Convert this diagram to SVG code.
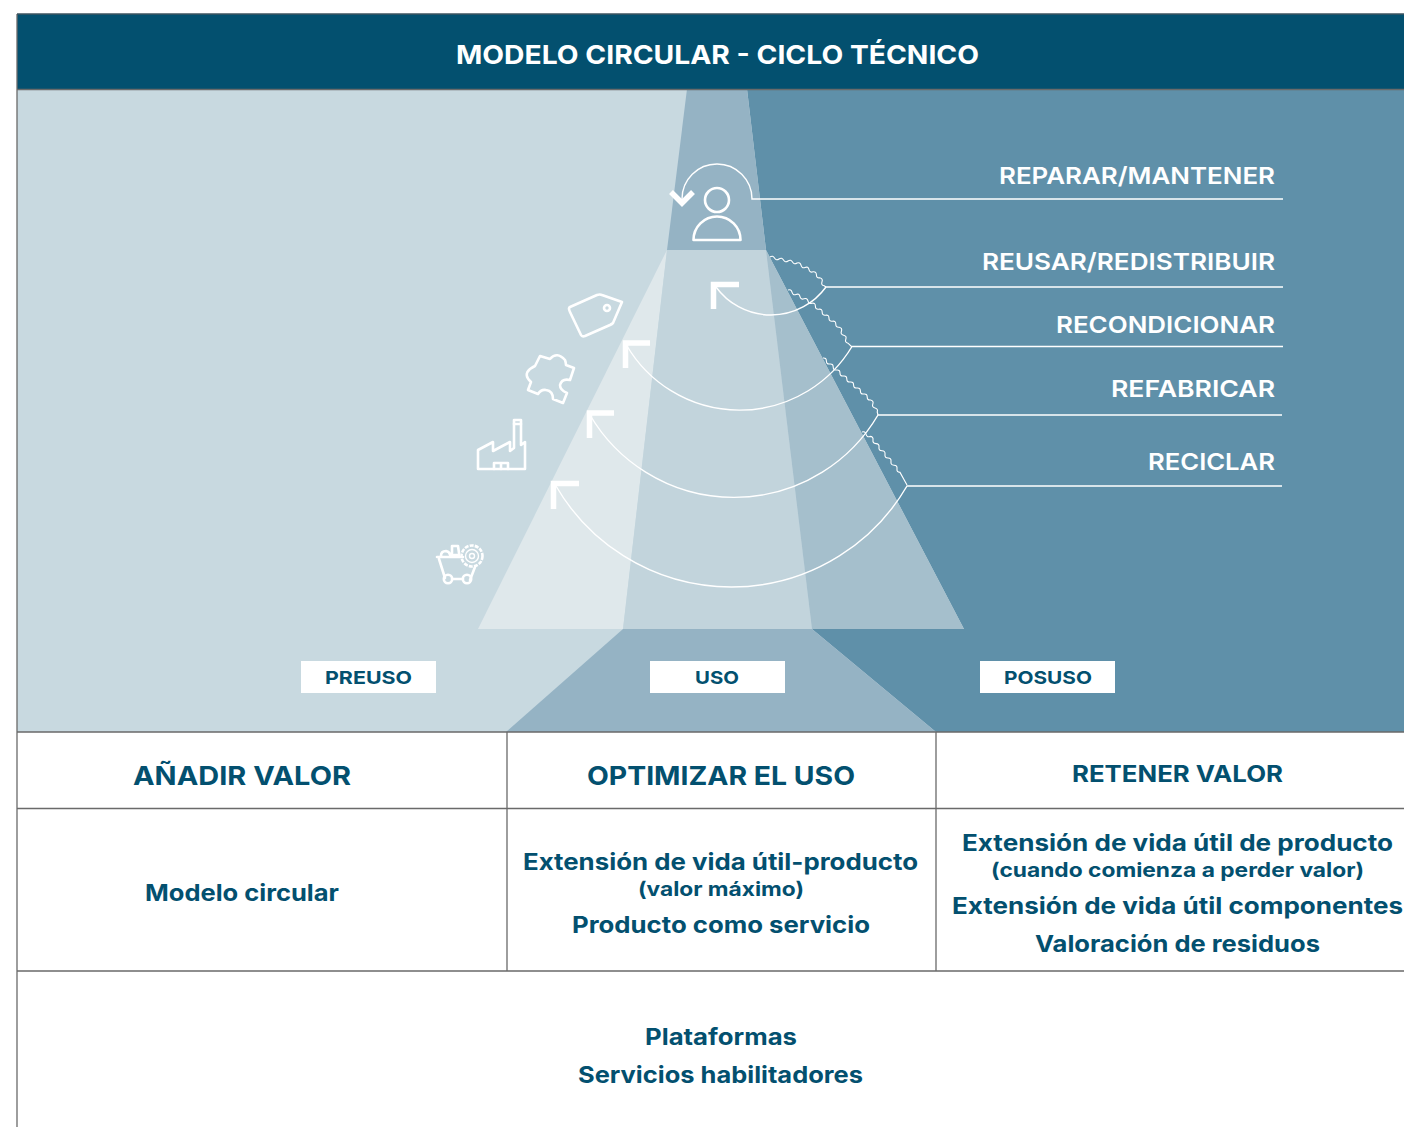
<svg xmlns="http://www.w3.org/2000/svg" width="1404" height="1127" viewBox="0 0 1404 1127">
<style>
text{font-family:"Inter","Liberation Sans",sans-serif;font-weight:700;fill:#03506f;text-anchor:middle}
.w{fill:#fff}
.r{fill:#fff;text-anchor:end;font-size:23.500px;font-weight:600}
.m{font-size:23px}
.s{font-size:20px}
.tag{font-size:18px}
.c{fill:none;stroke:#fff;stroke-width:1.4}
.v{fill:none;stroke:#fff;stroke-width:1.1}
.h{fill:none;stroke:#fff;stroke-width:5.5}
.i{fill:none;stroke:#fff;stroke-width:2.6;stroke-linejoin:round;stroke-linecap:round}
.b{stroke:#6a6a6a;stroke-width:1.3;fill:none}
</style>
<rect width="1404" height="1127" fill="#fff"/>
<g id="background">
<rect x="17" y="89" width="1387" height="643" fill="#c8d9e0"/>
<polygon points="747,89 1404,89 1404,732 936,732 812,629 964,629 766,250" fill="#5f90a9"/>
<polygon points="687,89 747,89 766,250 667,250" fill="#95b3c4"/>
<polygon points="667,250 623,629 478,629" fill="#dfe8eb"/>
<polygon points="667,250 766,250 812,629 623,629" fill="#c2d4dc"/>
<polygon points="766,250 964,629 812,629" fill="#a5bfcc"/>
<polygon points="623,629 812,629 936,732 506,732" fill="#95b3c4"/>
</g>
<g id="header">
<rect x="17" y="14" width="1387" height="75" fill="#03506f"/>
<text x="717.500" y="64" class="w" font-size="26" textLength="523" lengthAdjust="spacingAndGlyphs">MODELO CIRCULAR - CICLO TÉCNICO</text>
</g>
<g id="connectors">
<path class="c" d="M1283,199H752A35,35 0 0 0 682,199"/>
<path class="c" d="M1283,287H826A68,68 0 0 1 716,287"/>
<path class="c" d="M1283,346.500H852A131,131 0 0 1 627,346"/>
<path class="c" d="M1282,415H878A167,167 0 0 1 590,415"/>
<path class="c" d="M1282,486H907A203,203 0 0 1 556,486"/>
<path class="v" d="M770,257q2.850,-2 4.500,1q1.650,3 4.500,1q2.850,-2 4.500,1q1.650,3 4.500,1q2.850,-2 4.500,1q1.650,3 4.500,1q3.200,-1.200 4,2.200q.8,3.400 4,2.200q3.200,-1.200 4,2.200q.8,3.400 4,2.200q3.400,-.5 3.400,3q0,3.500 3.400,3q3.400,.8 2.200,4q-1.200,3.200 2.200,4L826,287"/>
<path class="v" d="M788,290q3.200,-1.200 4,2.200q.8,3.400 4,2.200q3.200,-1.200 4,2.200q.8,3.400 4,2.200q3.200,-1.200 4,2.200q.8,3.400 4,2.200q3.400,-.5 3.400,3q0,3.500 3.400,3q3.400,-.5 3.400,3q0,3.500 3.400,3q3.400,-.5 3.400,3q0,3.500 3.400,3q3.400,-.5 3.400,3q0,3.500 3.400,3q3.400,.8 2.200,4q-1.200,3.200 2.200,4q3.400,.8 2.200,4q-1.200,3.200 2.200,4L852,347"/>
<path class="v" d="M823,358q3.400,-.5 3.400,3q0,3.500 3.400,3q3.400,-.5 3.400,3q0,3.500 3.400,3q3.400,-.5 3.400,3q0,3.500 3.400,3q3.400,-.5 3.400,3q0,3.500 3.400,3q3.400,-.5 3.400,3q0,3.500 3.400,3q3.400,-.5 3.400,3q0,3.500 3.400,3q3.400,-.5 3.400,3q0,3.500 3.400,3q3.400,.8 2.200,4q-1.200,3.200 2.200,4q3.400,.8 2.200,4L878,415"/>
<path class="v" d="M862,432q3.200,-1.200 4,2.200q.8,3.400 4,2.200q3.500,.1 3,3.600q-.5,3.500 3,3.600q3.500,.1 3,3.600q-.5,3.500 3,3.600q3.500,.1 3,3.600q-.5,3.500 3,3.600q3.500,.1 3,3.600q-.5,3.500 3,3.600q3.500,.1 3,3.600q-.5,3.500 3,3.600L907,485"/>
<path class="h" d="M671,192L682,203L693,192"/>
<path class="h" d="M739,284.500H713.500V309"/>
<path class="h" d="M650,343H625.500V368"/>
<path class="h" d="M614,413H589.500V438"/>
<path class="h" d="M579,483.500H553.500V509"/>
</g>
<g id="icon-user" class="i">
<circle cx="717" cy="200" r="12"/>
<path d="M693.500,240A23.500,23.500 0 0 1 740.500,240Z"/>
</g>
<g id="icon-tag" class="i">
<path d="M570,307L597,295Q600,294 602,295L622,302L613,323Q612,324 610,325L585,336Q582,337 581,335L570,312Q568,308 570,307Z"/>
<circle cx="607" cy="308" r="3"/>
</g>
<g id="icon-part" class="i">
<path d="M540,356L550,359Q557,351 565,360Q566,363 566,365L574,368L570,380Q562,378 560,385Q560,390 567,393L563,403L553,399Q553,391 546,390Q541,389 538,394L528,390L531,382Q523,375 530,369Q533,367 535,366Z"/>
</g>
<g id="icon-factory" class="i">
<path d="M478,469V450L493,442V451L510,442V451L514,448V420H521V445L525,442V469Z"/>
<path d="M494,469V463H508V469M501,463V469M514,424H521"/>
</g>
<g id="icon-cart" class="i">
<path d="M437,557H463M439,559L445,578M470,580L475,567M452,579H463"/>
<circle cx="448" cy="579" r="4.200"/><circle cx="467" cy="579" r="4.200"/>
<circle cx="472" cy="556" r="10.500" stroke-dasharray="4 1.200" stroke-linecap="butt"/><circle cx="472" cy="556" r="6.500" stroke-width="1.400"/><circle cx="472" cy="556" r="2.500" stroke-width="1.400"/>
<path d="M452,553V546H458L459,553M441,556Q441,551 446,551Q450,552 450,555M450,555H459"/>
</g>
<g id="labels-right">
<text class="r" x="1275" y="184" textLength="276" lengthAdjust="spacingAndGlyphs">REPARAR/MANTENER</text>
<text class="r" x="1275" y="270" textLength="293" lengthAdjust="spacingAndGlyphs">REUSAR/REDISTRIBUIR</text>
<text class="r" x="1275" y="333" textLength="219" lengthAdjust="spacingAndGlyphs">RECONDICIONAR</text>
<text class="r" x="1275" y="397" textLength="164" lengthAdjust="spacingAndGlyphs">REFABRICAR</text>
<text class="r" x="1275" y="470" textLength="127" lengthAdjust="spacingAndGlyphs">RECICLAR</text>
</g>
<g id="preuso"><rect x="301" y="661" width="135" height="32" fill="#fff"/><text class="tag" x="368.500" y="684" textLength="87" lengthAdjust="spacingAndGlyphs">PREUSO</text></g>
<g id="uso"><rect x="650" y="661" width="135" height="32" fill="#fff"/><text class="tag" x="717" y="684" textLength="44" lengthAdjust="spacingAndGlyphs">USO</text></g>
<g id="posuso"><rect x="980" y="661" width="135" height="32" fill="#fff"/><text class="tag" x="1048" y="684" textLength="88" lengthAdjust="spacingAndGlyphs">POSUSO</text></g>
<g id="table">
<path class="b" d="M17,14V1127M17,89.500H1404M17,732H1404M17,808.500H1404M17,971H1404M507,732V971M936,732V971"/>
<path d="M17,14H1404" stroke="#3e5560" stroke-width="1.500"/>
</g>
<g id="cell-anadir"><text x="242" y="785" font-size="26" textLength="218" lengthAdjust="spacingAndGlyphs">AÑADIR VALOR</text></g>
<g id="cell-optimizar"><text x="721" y="785" font-size="26" textLength="268" lengthAdjust="spacingAndGlyphs">OPTIMIZAR EL USO</text></g>
<g id="cell-retener"><text x="1177.500" y="782" class="m" textLength="211" lengthAdjust="spacingAndGlyphs">RETENER VALOR</text></g>
<g id="cell-modelo"><text x="242" y="901" class="m" textLength="194" lengthAdjust="spacingAndGlyphs">Modelo circular</text></g>
<g id="cell-uso">
<text x="720.500" y="870" class="m" textLength="395" lengthAdjust="spacingAndGlyphs">Extensión de vida útil-producto</text>
<text x="721" y="896" class="s" textLength="166" lengthAdjust="spacingAndGlyphs">(valor máximo)</text>
<text x="721" y="933" class="m" textLength="298" lengthAdjust="spacingAndGlyphs">Producto como servicio</text>
</g>
<g id="cell-retener-detalle">
<text x="1177.500" y="851" class="m" textLength="431" lengthAdjust="spacingAndGlyphs">Extensión de vida útil de producto</text>
<text x="1177.500" y="877" class="s" textLength="373" lengthAdjust="spacingAndGlyphs">(cuando comienza a perder valor)</text>
<text x="1177.500" y="914" class="m" textLength="451" lengthAdjust="spacingAndGlyphs">Extensión de vida útil componentes</text>
<text x="1177.500" y="952" class="m" textLength="285" lengthAdjust="spacingAndGlyphs">Valoración de residuos</text>
</g>
<g id="cell-plataformas">
<text x="721" y="1045" class="m" textLength="152" lengthAdjust="spacingAndGlyphs">Plataformas</text>
<text x="720.500" y="1083" class="m" textLength="285" lengthAdjust="spacingAndGlyphs">Servicios habilitadores</text>
</g>
</svg>
